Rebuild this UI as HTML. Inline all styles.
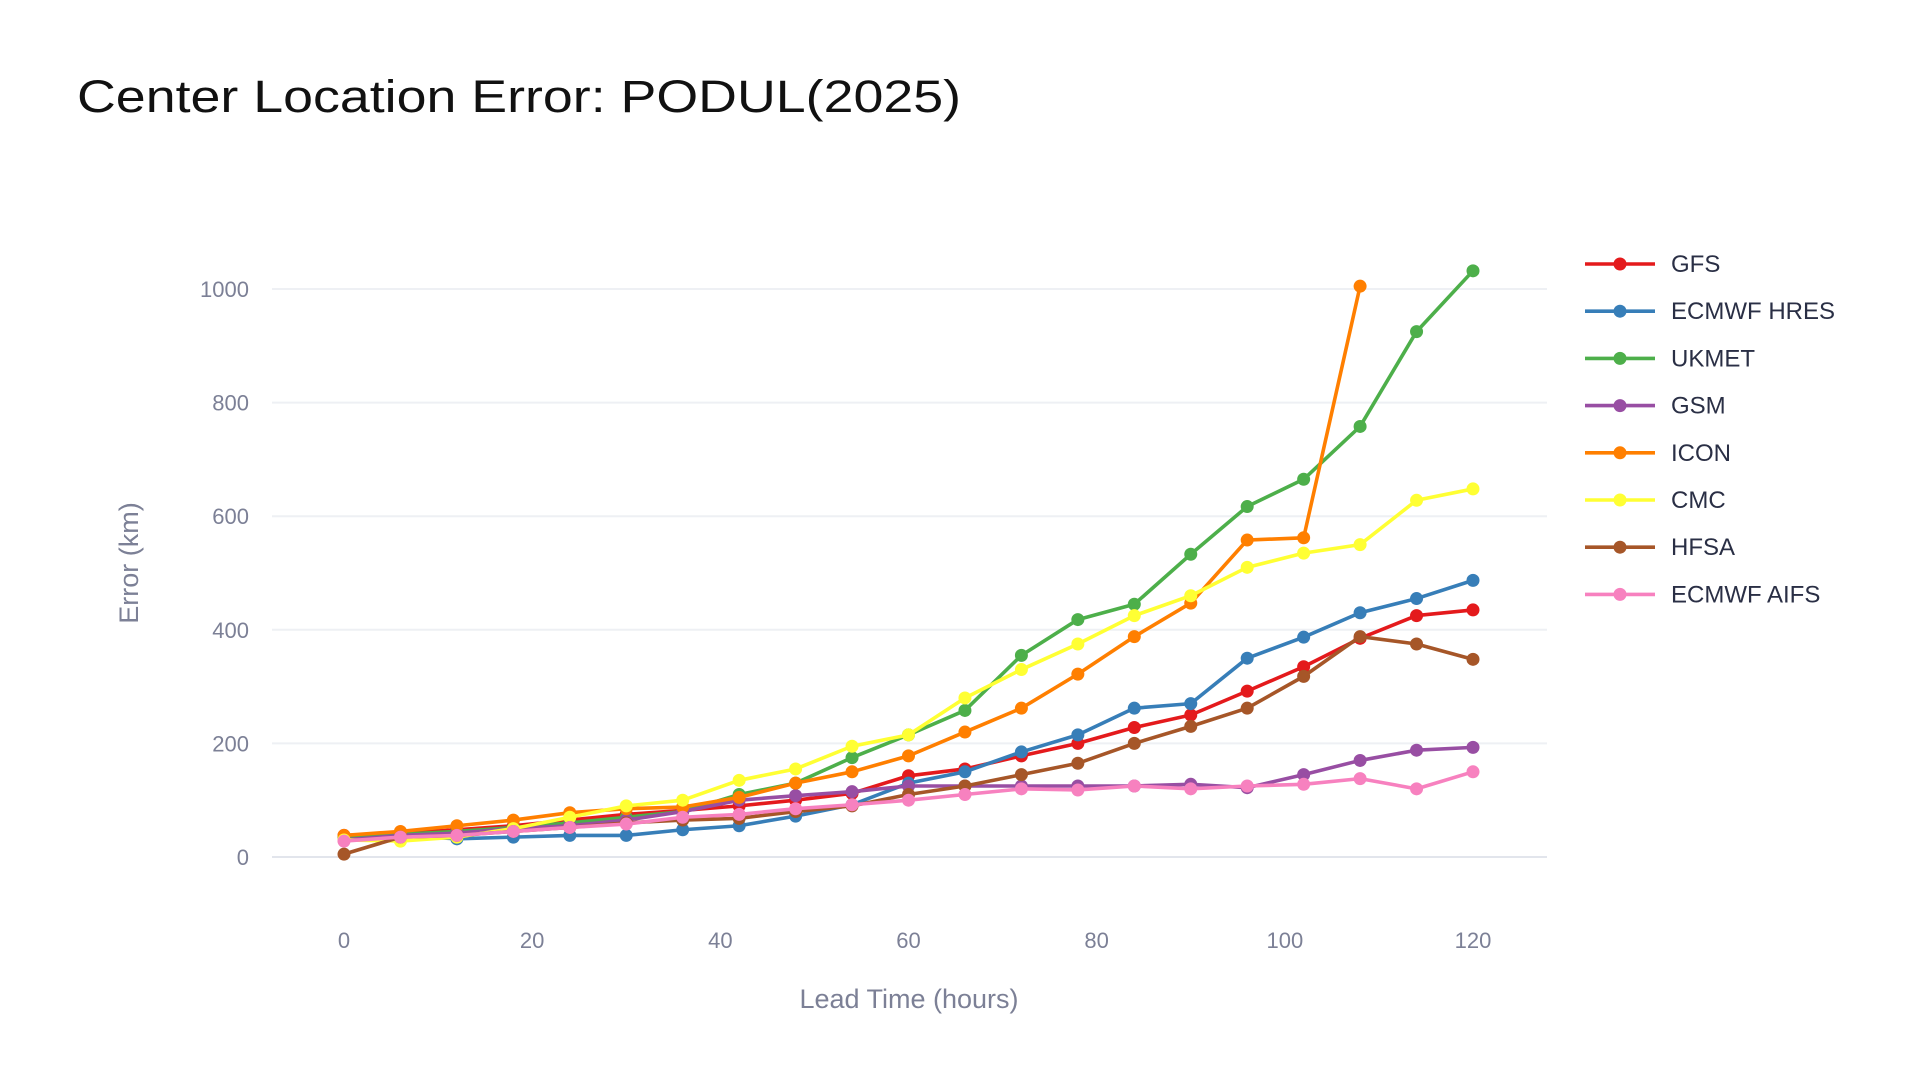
<!DOCTYPE html>
<html><head><meta charset="utf-8"><style>
body{margin:0;background:#fff;width:1920px;height:1080px;overflow:hidden;font-family:"Liberation Sans",sans-serif}
</style></head><body>
<svg width="1920" height="1080" id="svg">
<text x="77" y="112" font-size="45" fill="#111" textLength="884" lengthAdjust="spacingAndGlyphs">Center Location Error: PODUL(2025)</text>
<g id="grid"></g><g id="series"></g><g id="legend"></g>
<text x="0" y="0" transform="translate(138,563) rotate(-90)" text-anchor="middle" font-size="27" fill="#7c8096">Error (km)</text>
<text x="909" y="1008" text-anchor="middle" font-size="27" fill="#7c8096">Lead Time (hours)</text>
</svg>
<script>
const hours=[0,6,12,18,24,30,36,42,48,54,60,66,72,78,84,90,96,102,108,114,120];
const seriesNames=["GFS","ECMWF HRES","UKMET","GSM","ICON","CMC","HFSA","ECMWF AIFS"];
const seriesColors=["#e41a1c","#377eb8","#4daf4a","#984ea3","#ff7f00","#ffff33","#a65628","#f781bf"];
const gfs=[38,42,48,55,65,75,82,90,100,112,143,155,178,200,228,250,292,335,385,425,435];
const hres=[35,38,32,35,38,38,48,55,72,92,130,150,185,215,262,270,350,387,430,455,487];
const ukmet=[35,40,45,52,60,70,80,110,130,175,215,258,355,418,445,533,617,665,758,925,1032];
const gsm=[30,38,42,50,55,65,80,100,108,115,125,125,125,125,125,128,122,145,170,188,193];
const icon=[38,45,55,65,78,85,88,105,130,150,178,220,262,322,388,447,558,562,1005,null,null];
const cmc=[30,28,35,50,70,90,100,135,155,195,215,280,330,375,425,460,510,535,550,628,648];
const hfsa=[5,35,38,45,52,60,65,68,80,90,110,125,145,165,200,230,262,318,388,375,348];
const aifs=[28,35,38,45,52,58,70,75,85,92,100,110,120,118,125,120,125,128,138,120,150];
const yTicks=[0,200,400,600,800,1000];
const xTicks=[0,20,40,60,80,100,120];
const allSeries=[gfs,hres,ukmet,gsm,icon,cmc,hfsa,aifs];
const NS="http://www.w3.org/2000/svg";
const X=v=>344+v*(1473-344)/120;
const Y=v=>857-v*(857-289)/1000;
function mk(t,a,p){const e=document.createElementNS(NS,t);for(const k in a)e.setAttribute(k,a[k]);p.appendChild(e);return e;}
const grid=document.getElementById('grid');
yTicks.forEach(t=>{
 const l=mk('line',{x1:272,x2:1547,y1:Y(t),y2:Y(t),stroke:t===0?'#e2e5ec':'#eef0f4','stroke-width':2},grid);
 
 
 const tx=mk('text',{x:249,y:Y(t)+8,'text-anchor':'end','font-size':22,fill:'#7c8096'},grid);
 tx.textContent=t;
 
 
});
xTicks.forEach(t=>{
 const tx=mk('text',{x:X(t),y:948,'text-anchor':'middle','font-size':22,fill:'#7c8096'},grid);
 tx.textContent=t;
 
 
});
const sg=document.getElementById('series');
allSeries.forEach((vals,i)=>{
 const g=mk('g',{},sg);
 
 
 let d='';vals.forEach((v,j)=>{if(v==null)return;d+=(d?'L':'M')+X(hours[j])+' '+Y(v);});
 mk('path',{d:d,fill:'none',stroke:seriesColors[i],'stroke-width':3.6,'stroke-linejoin':'round'},g);
 vals.forEach((v,j)=>{if(v==null)return;
  const c=mk('circle',{cx:X(hours[j]),cy:Y(v),r:6.5,fill:seriesColors[i]},g);
  
  
 });
});
const lg=document.getElementById('legend');
seriesNames.forEach((n,i)=>{
 const y=264+i*47.2;
 const g=mk('g',{},lg);
 
 
 mk('line',{x1:1585,x2:1655,y1:y,y2:y,stroke:seriesColors[i],'stroke-width':3.6},g);
 mk('circle',{cx:1620,cy:y,r:6.5,fill:seriesColors[i]},g);
 const t=mk('text',{x:1671,y:y+8,'font-size':24,fill:'#2a2f45'},g);
 t.textContent=n;
});
</script>
</body></html>
